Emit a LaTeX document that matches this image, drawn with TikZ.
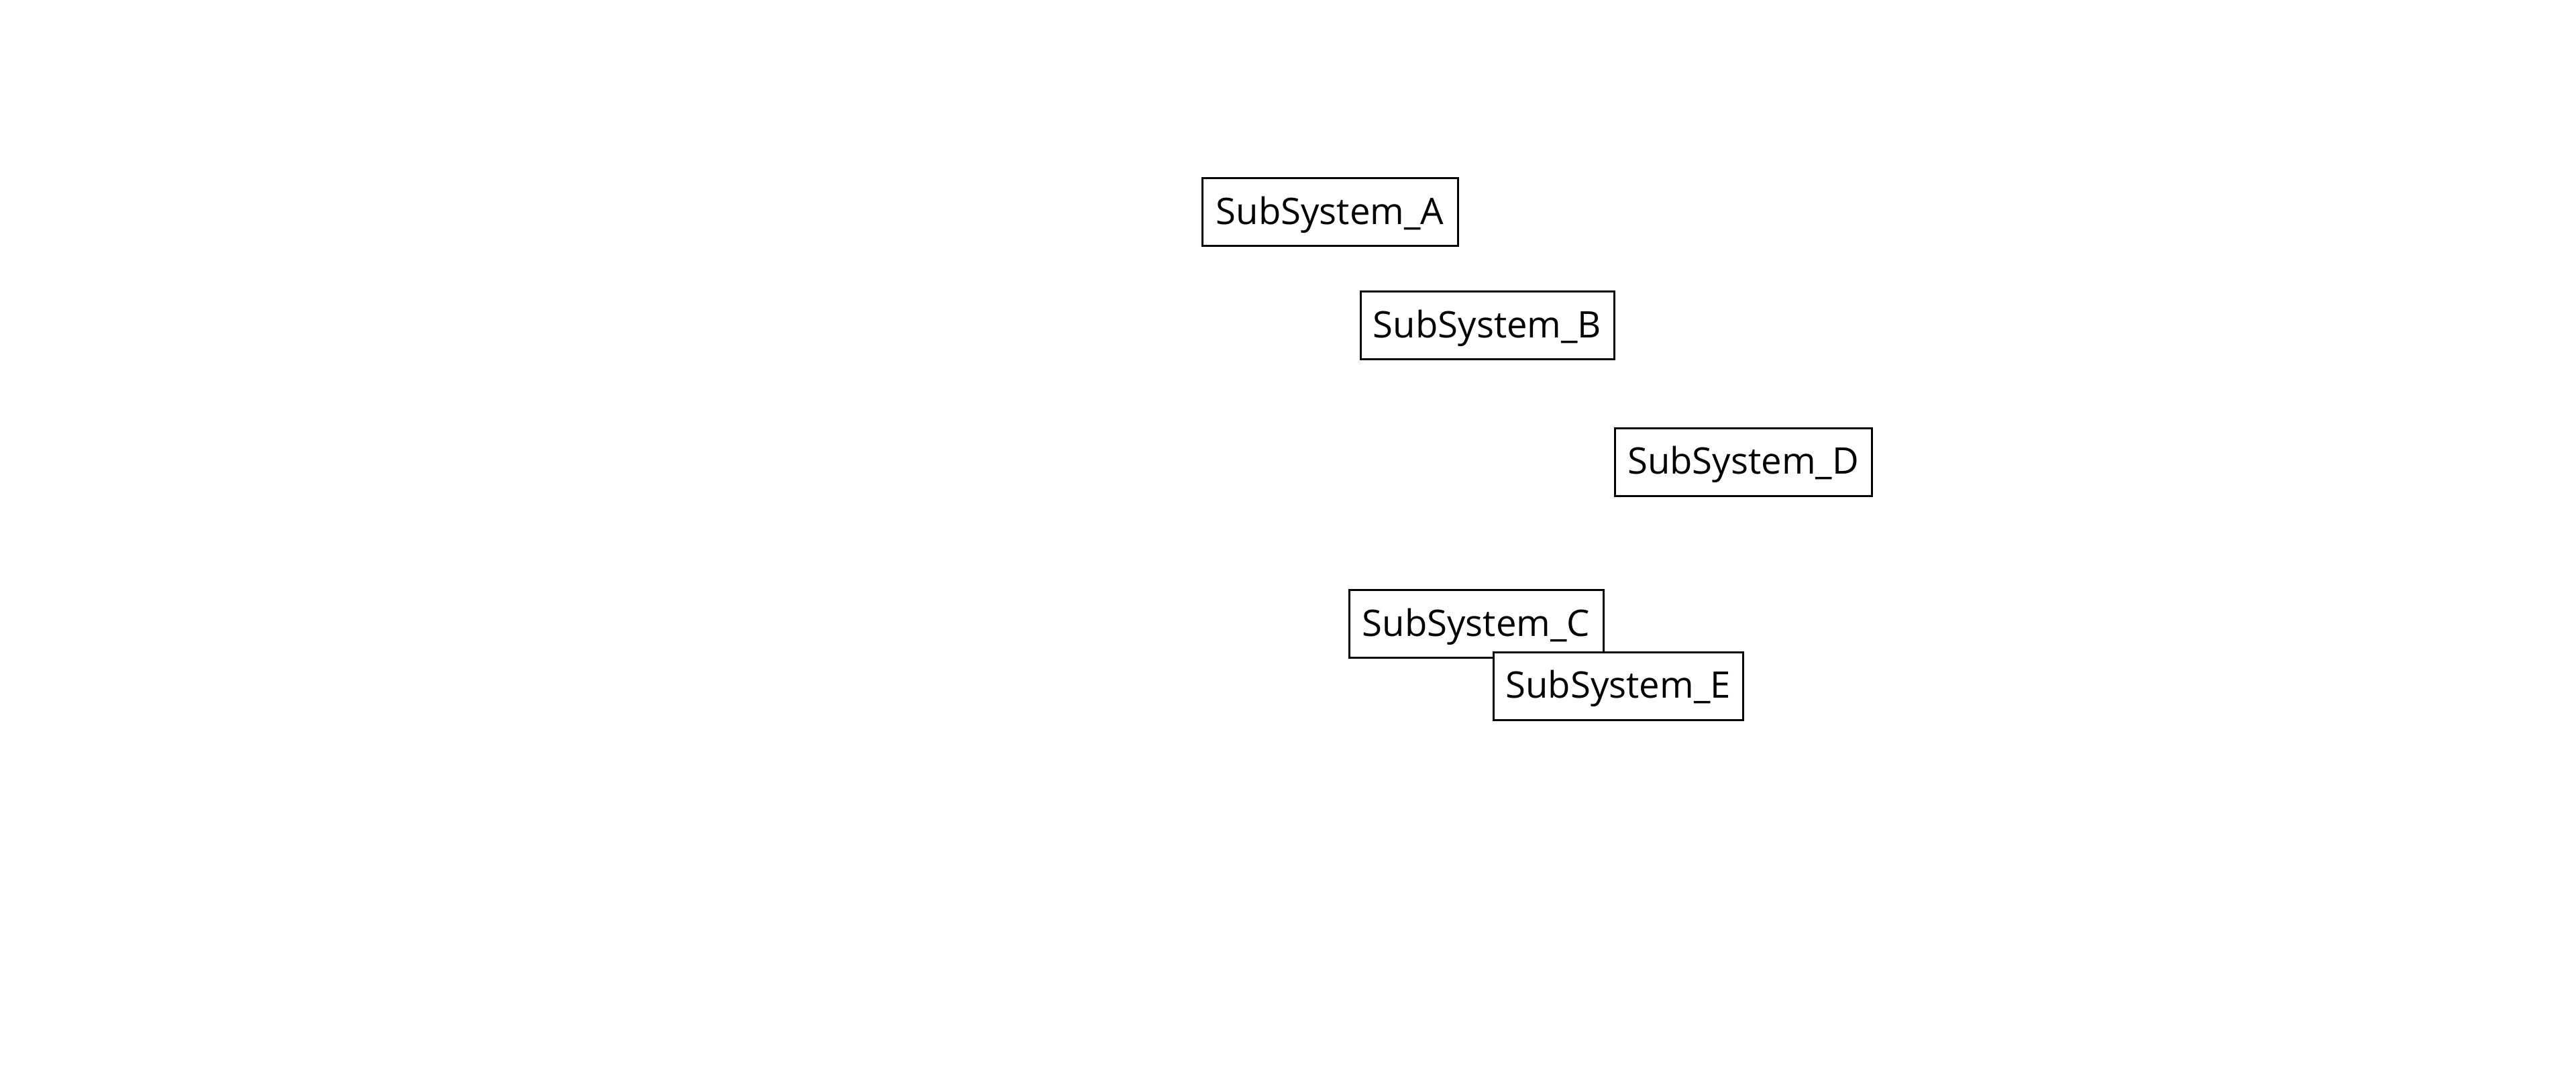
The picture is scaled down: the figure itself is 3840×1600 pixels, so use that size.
\documentclass[tikz,border=0pt]{standalone}
\usepackage{fontspec}
\setmainfont{Open Sans}
\begin{document}
\begin{tikzpicture}[x=0.01cm,y=-0.01cm,
  sysbox/.style={draw=black,fill=white,line width=0.85pt,inner sep=0pt,
    text height=13pt,text depth=2.6pt,
    minimum height=101*0.01cm,font=\fontsize{15.5pt}{18pt}\selectfont}]
\useasboundingbox (0,0) rectangle (3840,1600);
\node[sysbox,minimum width=381*0.01cm] (A) at (1982.5,316) {SubSystem\_A};
\node[sysbox,minimum width=378*0.01cm] (B) at (2217,485) {SubSystem\_B};
\node[sysbox,minimum width=383*0.01cm] (D) at (2598.5,688.5) {SubSystem\_D};
\node[sysbox,minimum width=379*0.01cm] (C) at (2200.5,930) {SubSystem\_C};
\node[sysbox,minimum width=372*0.01cm] (E) at (2412,1022.5) {SubSystem\_E};
\end{tikzpicture}
\end{document}
